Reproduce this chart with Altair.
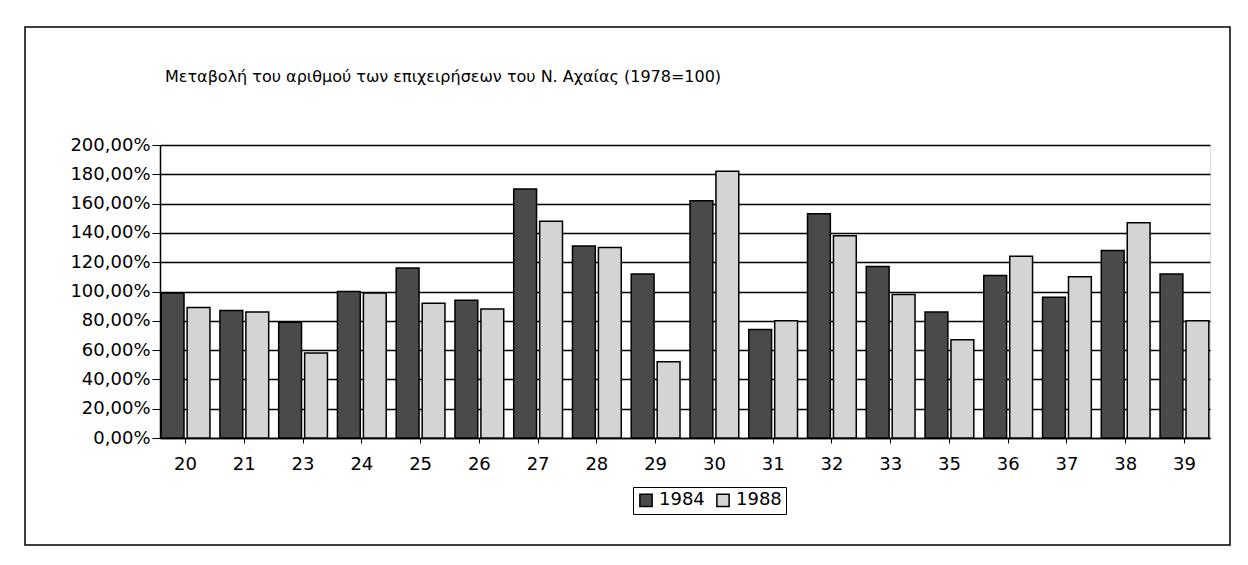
import altair as alt
import pandas as pd

categories = ["20", "21", "23", "24", "25", "26", "27", "28", "29", "30",
              "31", "32", "33", "35", "36", "37", "38", "39"]
v1984 = [99, 87, 79, 100, 116, 94, 170, 131, 112, 162, 74, 153, 117, 86, 111, 96, 128, 112]
v1988 = [89, 86, 58, 99, 92, 88, 148, 130, 52, 182, 80, 138, 98, 67, 124, 110, 147, 80]
series = ["1984", "1988"]
title_text = "Μεταβολή του αριθμού των επιχειρήσεων του Ν. Αχαίας (1978=100)"

rows = []
for i, c in enumerate(categories):
    rows.append({"cat": c, "year": series[0], "value": v1984[i]})
    rows.append({"cat": c, "year": series[1], "value": v1988[i]})
df = pd.DataFrame(rows)

FONT = "DejaVu Sans"

bars = alt.Chart(df).mark_bar(stroke="black", strokeWidth=1.5).encode(
    x=alt.X("cat:N", sort=categories,
            scale=alt.Scale(paddingInner=0.17, paddingOuter=0.02),
            axis=alt.Axis(title=None, labelAngle=0, labelPadding=12,
                          labelFontSize=18, labelFont=FONT, labelColor="black",
                          domainColor="black", domainWidth=1.5,
                          tickColor="black", tickSize=5, grid=False)),
    xOffset=alt.XOffset("year:N", scale=alt.Scale(paddingInner=0.12)),
    y=alt.Y("value:Q",
            scale=alt.Scale(domain=[0, 200]),
            axis=alt.Axis(title=None, values=list(range(0, 201, 20)),
                          labelExpr="replace(format(datum.value, '.2f'), '.', ',') + '%'",
                          labelFontSize=18, labelFont=FONT, labelColor="black",
                          domainColor="black", domainWidth=1.5,
                          tickColor="black", tickSize=8,
                          grid=True, gridColor="black", gridWidth=1.5, gridOpacity=1)),
    fill=alt.Color("year:N",
                   scale=alt.Scale(domain=series, range=["#4a4a4a", "#d4d4d4"]),
                   legend=alt.Legend(title=None, orient="none", direction="horizontal",
                                     legendX=473, legendY=342,
                                     strokeColor="black", padding=4,
                                     symbolType="square", symbolSize=150,
                                     symbolStrokeColor="black", symbolStrokeWidth=1.5,
                                     labelFontSize=18, labelFont=FONT, labelColor="black",
                                     columnPadding=8, symbolOffset=0)),
)

frame = alt.Chart(pd.DataFrame({"a": [0]})).mark_rect(
    fill=None, stroke="black", strokeWidth=1.5
).encode(
    x=alt.value(-135), x2=alt.value(1070),
    y=alt.value(-118), y2=alt.value(400),
)

title = alt.Chart(pd.DataFrame({"t": [title_text]})).mark_text(
    align="left", baseline="middle", fontSize=16, font=FONT, color="black"
).encode(
    text="t:N",
    x=alt.value(5), y=alt.value(-68),
)

chart = alt.layer(frame, bars, title).properties(
    width=1050, height=293,
    autosize=alt.AutoSizeParams(type="none"),
    padding={"left": 152, "top": 137, "right": 30, "bottom": 119},
).configure_view(stroke=None).configure(background="white")

chart.save("out.html", embed_options={"renderer": "svg", "actions": False})
